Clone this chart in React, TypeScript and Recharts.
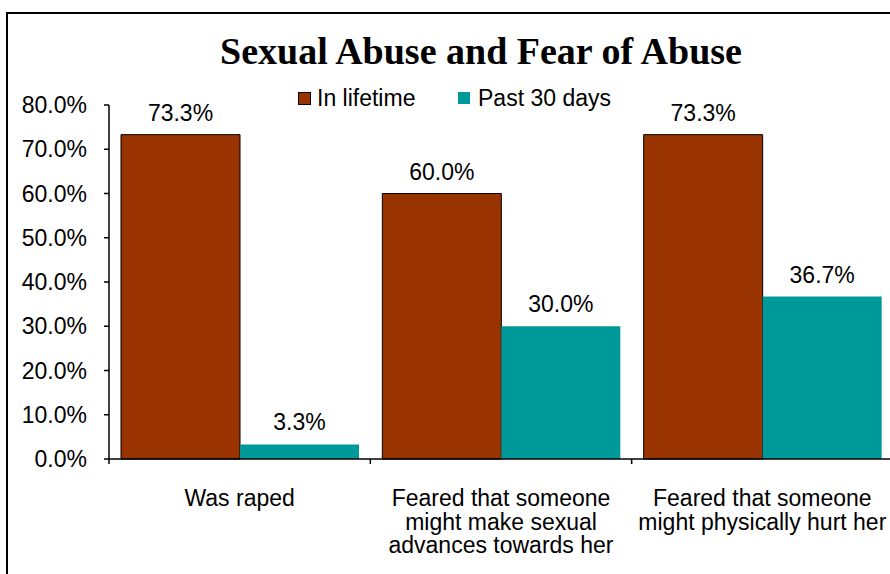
import { Bar, BarChart, LabelList, Legend, XAxis, YAxis } from 'recharts';

const categories = [
  'Was raped',
  'Feared that someone\nmight make sexual\nadvances towards her',
  'Feared that someone\nmight physically hurt her',
];
const inLifetime = [73.3, 60.0, 73.3];
const past30Days = [3.3, 30.0, 36.7];
const yTicks = [0, 10, 20, 30, 40, 50, 60, 70, 80];

const data = categories.map((name, i) => ({
  name,
  lifetime: inLifetime[i],
  past30: past30Days[i],
}));

const FONT = '"Liberation Sans", Arial, sans-serif';
const pct = (v: number) => `${Number(v).toFixed(1)}%`;

function CategoryTick(props: any) {
  const { x, y, payload, index } = props;
  const half = payload?.offset ?? 0;
  const lines = String(payload.value).split('\n');
  return (
    <g>
      <line x1={x - half} x2={x - half} y1={y} y2={y + 5} stroke="#000" strokeWidth={1.5} />
      {index === categories.length - 1 && (
        <line x1={x + half} x2={x + half} y1={y} y2={y + 5} stroke="#000" strokeWidth={1.5} />
      )}
      <text x={x} y={y + 47} textAnchor="middle" fontSize={23} fill="#000" fontFamily={FONT}>
        {lines.map((l, i) => (
          <tspan key={i} x={x} dy={i === 0 ? 0 : 23.5}>
            {l}
          </tspan>
        ))}
      </text>
    </g>
  );
}

function LegendBox({ payload }: any) {
  return (
    <div style={{ display: 'flex', alignItems: 'center', height: 24, fontFamily: FONT, fontSize: 23, color: '#000' }}>
      {(payload || []).map((p: any, i: number) => (
        <div key={i} style={{ display: 'flex', alignItems: 'center', width: i === 0 ? 160 : 'auto' }}>
          <span
            style={{
              display: 'inline-block',
              width: i === 0 ? 11 : 12,
              height: i === 0 ? 11 : 12,
              background: p.color,
              border: i === 0 ? '1px solid #000' : 'none',
              marginRight: i === 0 ? 6 : 8,
            }}
          />
          <span style={{ whiteSpace: 'nowrap', lineHeight: '24px' }}>{p.value}</span>
        </div>
      ))}
    </div>
  );
}

export default function App() {
  return (
    <div style={{ position: 'absolute', left: 0, top: 0, width: 890, height: 574, overflow: 'hidden', background: '#fff' }}>
      <div
        style={{
          position: 'absolute',
          left: 6,
          top: 12,
          width: 1000,
          height: 700,
          border: '2px solid #000',
          boxSizing: 'border-box',
        }}
      />
      <div
        style={{
          position: 'absolute',
          left: 0,
          top: 32,
          width: 962,
          textAlign: 'center',
          fontFamily: '"Liberation Serif", "Times New Roman", serif',
          fontWeight: 'bold',
          fontSize: 38,
          lineHeight: '38px',
          color: '#000',
          whiteSpace: 'nowrap',
        }}
      >
        Sexual Abuse and Fear of Abuse
      </div>
      <div style={{ position: 'absolute', left: 0, top: 0 }}>
        <BarChart
          width={900}
          height={574}
          data={data}
          margin={{ top: 105, right: 7, bottom: 0, left: 0 }}
          barCategoryGap={12}
          barGap={0}
          style={{ fontFamily: FONT }}
        >
          <XAxis
            dataKey="name"
            height={115}
            axisLine={{ stroke: '#000', strokeWidth: 1.5 }}
            tickLine={false}
            tickSize={0}
            tickMargin={0}
            interval={0}
            tick={<CategoryTick />}
          />
          <YAxis
            width={109}
            domain={[0, 80]}
            ticks={yTicks}
            interval={0}
            tickFormatter={pct}
            axisLine={{ stroke: '#000', strokeWidth: 1.5 }}
            tickLine={{ stroke: '#000', strokeWidth: 1.5 }}
            tickSize={5}
            tickMargin={17}
            tick={{ fontSize: 23, fill: '#000', fontFamily: FONT }}
          />
          <Legend
            layout="horizontal"
            verticalAlign="middle"
            align="center"
            content={<LegendBox />}
            wrapperStyle={{ top: 86, left: 298, width: 'auto' }}
          />
          <Bar dataKey="lifetime" name="In lifetime" fill="#993300" stroke="#000" strokeWidth={1} isAnimationActive={false}>
            <LabelList dataKey="lifetime" position="top" offset={14} formatter={pct as any} fontSize={23} fill="#000" fontFamily={FONT} />
          </Bar>
          <Bar dataKey="past30" name="Past 30 days" fill="#009999" isAnimationActive={false}>
            <LabelList dataKey="past30" position="top" offset={14} formatter={pct as any} fontSize={23} fill="#000" fontFamily={FONT} />
          </Bar>
        </BarChart>
      </div>
    </div>
  );
}
